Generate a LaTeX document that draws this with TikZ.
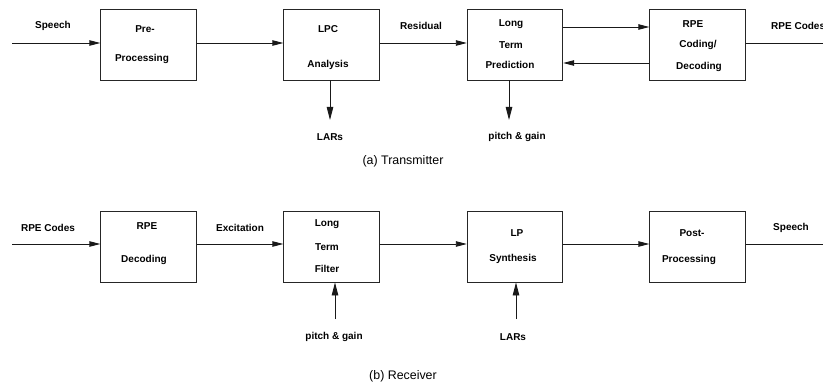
\documentclass[tikz,border=0pt]{standalone}
\usepackage{fontspec}
\setmainfont{Liberation Sans}
\usetikzlibrary{arrows.meta}
\begin{document}
\begin{tikzpicture}[x=1pt,y=-1pt,
  blk/.style={draw=black!85,line width=0.9pt,minimum width=95.5pt,minimum height=71pt,inner sep=0pt},
  lbl/.style={font=\bfseries\fontsize{10}{12}\selectfont,inner sep=0pt},
  captxt/.style={font=\fontsize{12.4}{14}\selectfont,inner sep=0pt},
  wire/.style={line width=0.9pt,draw=black!90},
  arr/.style={wire,-{Triangle[length=11pt,width=5.5pt]}},
  varr/.style={wire,-{Triangle[length=13pt,width=6.5pt]}}]
\useasboundingbox (0,0) rectangle (823,385);

% ---------- transmitter ----------
\node[blk] (pre) at (148.5,44.5) {};
\node[blk] (lpc) at (331.5,44.5) {};
\node[blk] (ltp) at (515,44.5) {};
\node[blk] (rpe) at (697.5,44.5) {};

\node[lbl] (preA) at (145,29) {Pre-};
\node[lbl] (preB) at (142,59) {Processing};
\node[lbl] (lpcA) at (328,29) {LPC};
\node[lbl] (lpcB) at (328,65) {Analysis};
\node[lbl] (ltpA) at (511,24) {Long};
\node[lbl] (ltpB) at (511,45) {Term};
\node[lbl] (ltpC) at (510,65) {Prediction};
\node[lbl] (rpeA) at (693,24) {RPE};
\node[lbl] (rpeB) at (698,45) {Coding/};
\node[lbl] (rpeC) at (699,67) {Decoding};

\coordinate (tin) at (12,43);
\coordinate (tout) at (823,43);
\node[lbl] (tinL) at (53,26) {Speech};
\node[lbl,anchor=west] (toutL) at (771,26) {RPE Codes};
\node[lbl] (resL) at (421,26) {Residual};

\draw[arr] (tin) -- (tin -| pre.west);
\draw[arr] (pre.east |- tin) -- (lpc.west |- tin);
\draw[arr] (lpc.east |- tin) -- (ltp.west |- tin);
\draw[wire] (rpe.east |- tout) -- (tout);
\draw[arr] ([yshift=17.5pt]ltp.east) -- ([yshift=17.5pt]rpe.west);
\draw[arr] ([yshift=-18.5pt]rpe.west) -- ([yshift=-18.5pt]ltp.east);

\coordinate (lars) at (330,120);
\coordinate (pg) at (509,120);
\node[lbl] (larsL) at (330,137) {LARs};
\node[lbl] (pgL) at (517,137) {pitch \& gain};
\draw[varr] (lpc.south -| lars) -- (lars);
\draw[varr] (ltp.south -| pg) -- (pg);

\node[captxt] (capA) at (403,161) {(a) Transmitter};

% ---------- receiver ----------
\node[blk] (dec) at (148.5,246.5) {};
\node[blk] (ltf) at (331.5,246.5) {};
\node[blk] (lps) at (515,246.5) {};
\node[blk] (post) at (697.5,246.5) {};

\node[lbl] (decA) at (147,226) {RPE};
\node[lbl] (decB) at (144,260) {Decoding};
\node[lbl] (ltfA) at (327,224) {Long};
\node[lbl] (ltfB) at (327,247) {Term};
\node[lbl] (ltfC) at (327,269) {Filter};
\node[lbl] (lpsA) at (517,233) {LP};
\node[lbl] (lpsB) at (513,259) {Synthesis};
\node[lbl] (postA) at (692,233) {Post-};
\node[lbl] (postB) at (689,260) {Processing};

\coordinate (rin) at (12,244);
\coordinate (rout) at (823,244);
\node[lbl] (rinL) at (48,228) {RPE Codes};
\node[lbl] (excL) at (240,228) {Excitation};
\node[lbl] (routL) at (791,228) {Speech};

\draw[arr] (rin) -- (rin -| dec.west);
\draw[arr] (dec.east |- rin) -- (ltf.west |- rin);
\draw[arr] (ltf.east |- rin) -- (lps.west |- rin);
\draw[arr] (lps.east |- rin) -- (post.west |- rin);
\draw[wire] (post.east |- rout) -- (rout);

\coordinate (pgIn) at (335,319);
\coordinate (larsIn) at (516,319);
\node[lbl] (pgInL) at (334,337) {pitch \& gain};
\node[lbl] (larsInL) at (513,337) {LARs};
\draw[varr] (pgIn) -- (pgIn |- ltf.south);
\draw[varr] (larsIn) -- (larsIn |- lps.south);

\node[captxt] (capB) at (403,376) {(b) Receiver};
\end{tikzpicture}
\end{document}
